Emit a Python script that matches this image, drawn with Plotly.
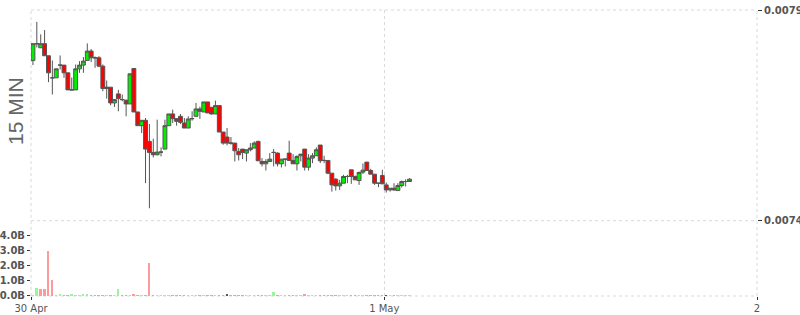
import pandas as pd
import plotly.graph_objects as go

# 15-minute candles starting 30 Apr 01:15
times = pd.date_range("2024-04-30 01:15", periods=98, freq="15min")

open_ = [0.0077803, 0.0078200, 0.0078104, 0.0078200, 0.0077914, 0.0077390, 0.0077390, 0.0077692, 0.0077692, 0.0077509,
         0.0077104, 0.0077104, 0.0077604, 0.0077692, 0.0077803, 0.0078025, 0.0077866, 0.0077866, 0.0077668, 0.0077136,
         0.0077168, 0.0076795, 0.0077009, 0.0076874, 0.0076858, 0.0076771, 0.0077612, 0.0076580, 0.0076255, 0.0076382,
         0.0075882, 0.0075620, 0.0075565, 0.0075628, 0.0075699, 0.0076255, 0.0076533, 0.0076422, 0.0076477, 0.0076318,
         0.0076199, 0.0076422, 0.0076477, 0.0076652, 0.0076580, 0.0076818, 0.0076691, 0.0076533, 0.0076731, 0.0076104,
         0.0075985, 0.0075842, 0.0075842, 0.0075644, 0.0075699, 0.0075604, 0.0075684, 0.0075723, 0.0075882, 0.0075406,
         0.0075350, 0.0075406, 0.0075620, 0.0075604, 0.0075350, 0.0075461, 0.0075604, 0.0075430, 0.0075350, 0.0075541,
         0.0075699, 0.0075271, 0.0075485, 0.0075541, 0.0075795, 0.0075430, 0.0075430, 0.0075128, 0.0074985, 0.0074826,
         0.0074890, 0.0075049, 0.0075207, 0.0075049, 0.0074953, 0.0075152, 0.0075390, 0.0075191, 0.0075104, 0.0074890,
         0.0075072, 0.0074850, 0.0074731, 0.0074771, 0.0074715, 0.0074834, 0.0074930, 0.0074930]

high = [0.0078200, 0.0078718, 0.0078422, 0.0078525, 0.0077914, 0.0077803, 0.0077604, 0.0077922, 0.0077692, 0.0077509,
        0.0077398, 0.0077707, 0.0077787, 0.0077882, 0.0078207, 0.0078073, 0.0077898, 0.0077906, 0.0077707, 0.0077327,
        0.0077168, 0.0076874, 0.0077104, 0.0076993, 0.0076874, 0.0077485, 0.0077612, 0.0076580, 0.0076382, 0.0076437,
        0.0076295, 0.0075945, 0.0076398, 0.0075739, 0.0076398, 0.0076533, 0.0076636, 0.0076422, 0.0076533, 0.0076437,
        0.0076477, 0.0076596, 0.0076795, 0.0076707, 0.0076818, 0.0076818, 0.0076691, 0.0076850, 0.0076731, 0.0076104,
        0.0076199, 0.0075985, 0.0075842, 0.0075723, 0.0075699, 0.0075684, 0.0075842, 0.0075882, 0.0075898, 0.0075485,
        0.0075461, 0.0075604, 0.0075699, 0.0075620, 0.0075461, 0.0075461, 0.0075898, 0.0075580, 0.0075549, 0.0075580,
        0.0075699, 0.0075580, 0.0075604, 0.0075739, 0.0075795, 0.0075541, 0.0075430, 0.0075128, 0.0075009, 0.0074969,
        0.0075088, 0.0075088, 0.0075207, 0.0075072, 0.0075168, 0.0075358, 0.0075390, 0.0075231, 0.0075104, 0.0074890,
        0.0075207, 0.0074906, 0.0074771, 0.0074890, 0.0074890, 0.0074953, 0.0074985, 0.0075009]

low = [0.0077692, 0.0078112, 0.0078104, 0.0077914, 0.0077287, 0.0076993, 0.0077390, 0.0077588, 0.0077390, 0.0077104,
       0.0077104, 0.0077104, 0.0077509, 0.0077509, 0.0077803, 0.0077763, 0.0077628, 0.0077644, 0.0077072, 0.0076898,
       0.0076739, 0.0076699, 0.0076596, 0.0076834, 0.0076477, 0.0076771, 0.0076580, 0.0076255, 0.0076080, 0.0074890,
       0.0074295, 0.0075501, 0.0075549, 0.0075525, 0.0075699, 0.0076255, 0.0076318, 0.0076255, 0.0076295, 0.0076199,
       0.0076199, 0.0076374, 0.0076477, 0.0076414, 0.0076580, 0.0076557, 0.0076517, 0.0076533, 0.0076104, 0.0075803,
       0.0075787, 0.0075803, 0.0075406, 0.0075430, 0.0075461, 0.0075406, 0.0075644, 0.0075723, 0.0075422, 0.0075287,
       0.0075191, 0.0075406, 0.0075287, 0.0075287, 0.0075263, 0.0075287, 0.0075430, 0.0075350, 0.0075191, 0.0075406,
       0.0075191, 0.0075191, 0.0075366, 0.0075541, 0.0075366, 0.0075366, 0.0075104, 0.0074691, 0.0074715, 0.0074731,
       0.0074890, 0.0074890, 0.0074874, 0.0074969, 0.0074850, 0.0075104, 0.0075191, 0.0075104, 0.0074850, 0.0074795,
       0.0074874, 0.0074668, 0.0074691, 0.0074707, 0.0074715, 0.0074787, 0.0074811, 0.0074930]

close = [0.0078200, 0.0078200, 0.0078200, 0.0077914, 0.0077509, 0.0077390, 0.0077604, 0.0077692, 0.0077509, 0.0077104,
         0.0077104, 0.0077604, 0.0077692, 0.0077787, 0.0078025, 0.0077866, 0.0077866, 0.0077668, 0.0077136, 0.0077168,
         0.0076795, 0.0076874, 0.0076898, 0.0076874, 0.0076771, 0.0077485, 0.0076580, 0.0076255, 0.0076382, 0.0075699,
         0.0075620, 0.0075565, 0.0075628, 0.0075628, 0.0076255, 0.0076533, 0.0076422, 0.0076358, 0.0076334, 0.0076199,
         0.0076414, 0.0076422, 0.0076652, 0.0076596, 0.0076818, 0.0076557, 0.0076533, 0.0076731, 0.0076104, 0.0075842,
         0.0075842, 0.0075842, 0.0075660, 0.0075565, 0.0075620, 0.0075684, 0.0075723, 0.0075842, 0.0075422, 0.0075350,
         0.0075406, 0.0075461, 0.0075620, 0.0075350, 0.0075461, 0.0075461, 0.0075430, 0.0075350, 0.0075525, 0.0075580,
         0.0075271, 0.0075485, 0.0075541, 0.0075684, 0.0075422, 0.0075430, 0.0075128, 0.0074850, 0.0074826, 0.0074890,
         0.0075049, 0.0075049, 0.0075049, 0.0074969, 0.0075144, 0.0075199, 0.0075191, 0.0075104, 0.0074890, 0.0074890,
         0.0074874, 0.0074731, 0.0074771, 0.0074731, 0.0074834, 0.0074930, 0.0074930, 0.0074985]

# volume in billions
volume = [0.10, 0.53, 0.46, 0.46, 3.03, 1.05, 0.04, 0.13, 0.07, 0.07,
          0.13, 0.07, 0.07, 0.13, 0.13, 0.05, 0.04, 0.05, 0.04, 0.05,
          0.04, 0.05, 0.46, 0.05, 0.04, 0.04, 0.13, 0.05, 0.05, 0.04,
          2.20, 0.05, 0.04, 0.05, 0.07, 0.04, 0.04, 0.05, 0.07, 0.04,
          0.04, 0.05, 0.07, 0.04, 0.04, 0.05, 0.07, 0.04, 0.05, 0.04,
          0.13, 0.05, 0.04, 0.04, 0.05, 0.04, 0.05, 0.04, 0.07, 0.04,
          0.04, 0.05, 0.26, 0.04, 0.05, 0.04, 0.05, 0.04, 0.04, 0.05,
          0.13, 0.04, 0.05, 0.04, 0.04, 0.05, 0.04, 0.04, 0.05, 0.04,
          0.04, 0.05, 0.04, 0.04, 0.05, 0.04, 0.04, 0.05, 0.04, 0.05,
          0.07, 0.05, 0.05, 0.04, 0.05, 0.04, 0.05, 0.04]
volume_dir = ("uudddduudd" "uuuuuddddu" "duudduddud" "dduuuudddd" "uuududdudd"
              "ndddduuudd" "uuuduudduu" "duuudddddu" "uudduudddd" "dnuduuuu")

x_tick_vals = ["2024-04-30 01:15", "2024-05-01 00:00", "2024-05-02 00:00"]
x_tick_text = ["30 Apr", "1 May", "2"]
price_tick_vals = [0.0074, 0.0079]
price_tick_text = ["0.0074", "0.0079"]
vol_tick_vals = [0, 1, 2, 3, 4]
vol_tick_text = ["0.0B", "1.0B", "2.0B", "3.0B", "4.0B"]

dir_colors = {"u": "#9af59a", "d": "#ff9a9a", "n": "#555555"}
vol_colors = [dir_colors[c] for c in volume_dir]

GRID = "#d9d9d9"
TXT = "#555555"
period = 15 * 60 * 1000

fig = go.Figure()
fig.add_trace(go.Candlestick(
    x=times, open=open_, high=high, low=low, close=close,
    xperiod=period, xperiodalignment="middle",
    increasing=dict(fillcolor="#00ee00", line=dict(color="#555555", width=1)),
    decreasing=dict(fillcolor="#ff0000", line=dict(color="#555555", width=1)),
    whiskerwidth=0, showlegend=False, hoverinfo="skip",
    xaxis="x", yaxis="y",
))
fig.add_trace(go.Bar(
    x=times, y=volume, marker=dict(color=vol_colors, line=dict(width=0)),
    xperiod=period, xperiodalignment="middle", width=460000,
    showlegend=False, hoverinfo="skip", xaxis="x", yaxis="y2",
))

dom_split = 0.2633
grid_line = dict(color=GRID, width=1, dash="dot")
fig.update_layout(
    width=800, height=315,
    margin=dict(l=31, r=43, t=10, b=19, autoexpand=False),
    paper_bgcolor="white", plot_bgcolor="white",
    bargap=0, boxgap=0, boxgroupgap=0,
    xaxis=dict(
        type="date", range=["2024-04-30 01:15", "2024-05-02 00:00"],
        tickvals=x_tick_vals, ticktext=x_tick_text,
        showgrid=True, gridcolor=GRID, griddash="dot", gridwidth=1,
        ticks="outside", ticklen=3, tickcolor="#333333",
        tickfont=dict(family="DejaVu Sans", size=10, color=TXT),
        rangeslider=dict(visible=False), anchor="y2", automargin=False,
        zeroline=False, showline=False,
    ),
    yaxis=dict(
        domain=[dom_split, 1], range=[0.0074, 0.0079], side="right", anchor="x",
        tickvals=price_tick_vals, ticktext=price_tick_text,
        showgrid=True, gridcolor=GRID, griddash="dot", gridwidth=1,
        ticks="outside", ticklen=4, tickcolor="#333333",
        tickfont=dict(family="DejaVu Sans", size=10, color=TXT, weight="bold"),
        zeroline=False, showline=False, automargin=False,
    ),
    yaxis2=dict(
        domain=[0, dom_split], range=[0, 5], side="left", anchor="x",
        tickvals=vol_tick_vals, ticktext=vol_tick_text,
        showgrid=False, ticks="outside", ticklen=3, tickcolor="#333333",
        tickfont=dict(family="DejaVu Sans", size=10, color=TXT, weight="bold"),
        zeroline=False, showline=False, automargin=False,
    ),
    shapes=[
        dict(type="line", xref="paper", yref="paper", x0=0, x1=1, y0=0, y1=0, line=grid_line, layer="below"),
        dict(type="line", xref="paper", yref="paper", x0=0, x1=1, y0=dom_split, y1=dom_split, line=grid_line, layer="below"),
        dict(type="line", xref="paper", yref="paper", x0=0, x1=1, y0=1, y1=1, line=grid_line, layer="below"),
        dict(type="line", xref="paper", yref="paper", x0=0, x1=0, y0=0, y1=1, line=grid_line, layer="below"),
        dict(type="line", xref="paper", yref="paper", x0=1, x1=1, y0=0, y1=1, line=grid_line, layer="below"),
    ],
    annotations=[
        dict(text="15 MIN", xref="paper", yref="paper", x=-0.0207, y=0.647,
             textangle=-90, showarrow=False, xanchor="center", yanchor="middle",
             font=dict(family="Liberation Sans", size=21, color="#666666")),
    ],
)

fig.write_html("out.html")
